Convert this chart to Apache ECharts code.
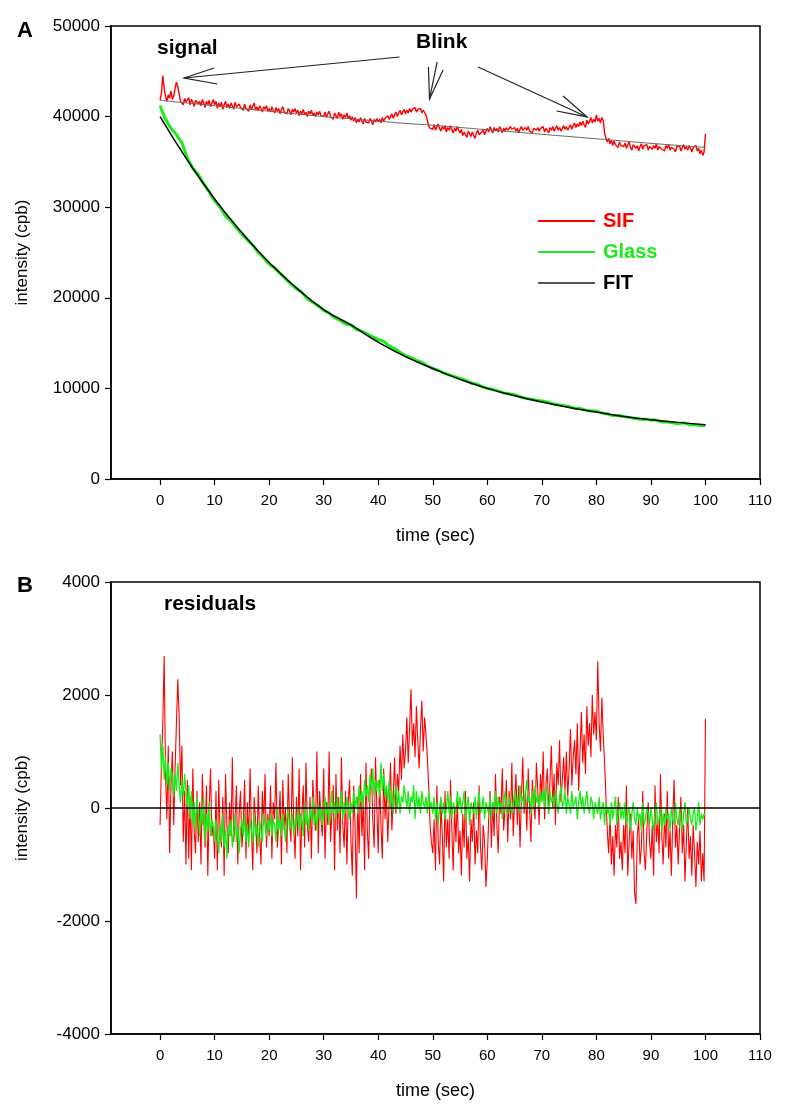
<!DOCTYPE html>
<html><head><meta charset="utf-8">
<script src="https://cdn.jsdelivr.net/npm/echarts@6/dist/echarts.min.js"></script>
<style>html,body{margin:0;padding:0;background:#fff}#c{width:792px;height:1111px}</style>
</head><body><div id="c"></div>
<script>
// ---------- tick labels ----------
const xTicks = [0, 10, 20, 30, 40, 50, 60, 70, 80, 90, 100, 110];
// ---------- fit curves (sampled every 5 s) ----------
const fitTimes = [0, 5, 10, 15, 20, 25, 30, 35, 40, 45, 50, 55, 60, 65, 70, 75, 80, 85, 90, 95, 100];
const sifFit   = [41800, 41500, 41200, 40900, 40600, 40300, 40000, 39750, 39500, 39250, 39050, 38800, 38550, 38300, 38050, 37800, 37550, 37300, 37050, 36820, 36600];
const glassFit = [40000, 35200, 30900, 27200, 23900, 21100, 18700, 17000, 15100, 13500, 12200, 11000, 10000, 9200, 8500, 7900, 7400, 6900, 6550, 6250, 6000];
// ---------- SIF signal (every 0.25 s) ----------
const sifSignal = [
41800,42600,44500,43100,42200,41700,42400,42000,42800,41900,42300,43100,43800,43300,42500,41700,41900,41300,42000,41600,
41500,42100,41300,41900,41600,41100,41800,42000,41400,41700,41200,41900,41500,41000,41700,41300,41800,41100,41500,41900,
41300,41700,40900,41500,41100,41600,40800,41300,41700,41000,41400,40900,41500,41200,40800,41600,41100,40900,41400,41000,
41200,40700,41400,40900,41100,40600,41300,40800,41000,41500,40700,41100,40600,41200,40900,40500,41100,40800,41200,40600,
40900,40500,41100,40700,40400,41000,40600,40900,40300,40800,41100,40500,40700,40300,40900,40600,40200,40800,40500,40900,
40400,40700,40100,40600,40300,40800,40200,40500,40000,40600,40300,40700,40100,40400,40000,40500,40200,40600,40100,40300,
40000,40500,39900,40300,40600,40000,40200,39700,40400,40100,39800,40500,40000,40300,39700,40200,39900,40400,39800,40100,
39600,40000,39500,39900,39300,39700,39400,39900,39500,39200,39800,39400,39600,39300,39800,39500,39100,39700,39400,39800,
39400,39700,39300,39900,39500,39800,39600,40100,39700,40000,40300,39800,40200,40500,40000,40400,40700,40200,40500,40800,
40300,40700,40400,40900,40500,40800,40600,41000,40500,40800,40600,40900,40400,40700,40500,40200,39600,39000,38700,38900,
38600,39100,38500,38900,39200,38700,38400,38900,38600,39000,38300,38800,38500,39000,38600,38200,38700,38400,38900,38500,
38200,38600,37900,38300,38000,37700,38400,38100,37800,38300,37900,37600,38200,38500,38000,37800,38300,38600,38000,38400,
38700,38300,38900,38500,38200,38800,38400,38700,38300,38900,38600,38200,38700,38400,38800,38500,38300,38900,38600,38400,
38800,38400,38700,38200,38600,38900,38500,38300,38800,38500,38900,38400,38600,38200,38700,38900,38500,38800,38400,38700,
38500,38900,38300,38700,38600,38200,38800,38500,38900,38400,38700,39000,38500,38800,38400,38700,39000,38600,38900,38500,
38700,39100,38600,39000,39300,38800,39200,38900,39400,39000,39500,39100,38800,39600,39200,39500,39900,39300,39700,39400,
40200,39500,39800,39300,39900,39600,38200,37600,37200,37600,37000,37400,36800,37300,36900,37100,36600,37200,36800,37000,
36700,37100,36500,36900,37200,36600,36300,36900,37000,36500,36800,36200,36700,37000,36400,36800,36600,36900,36300,36700,
36900,36400,36800,36500,37000,36300,36700,36900,36400,36600,36200,36800,36500,36900,36300,36600,36800,36400,36100,36700,
36500,36800,36200,36600,36900,36400,36700,36300,36800,36500,36100,36600,36400,36800,36200,36500,35900,36300,35700,36100,
38100];
// ---------- Glass signal (every 1 s) ----------
const glassSignal = [
41200,39700,38700,38000,37100,35400,34300,33600,32600,31700,
30700,30000,29000,28500,27700,27000,26400,25800,25000,24400,
23700,23300,22700,22100,21500,21000,20600,19900,19500,19100,
18600,18300,17800,17500,17100,17000,16500,16300,16000,15700,
15400,15200,14700,14400,14000,13600,13400,13100,12900,12500,
12200,12000,11700,11500,11300,11100,10900,10600,10500,10200,
10000,9900,9700,9500,9400,9300,9100,8900,8800,8700,
8600,8500,8300,8200,8100,8000,7800,7800,7600,7500,
7500,7300,7200,7000,7000,6900,6800,6700,6600,6600,
6500,6500,6300,6300,6200,6100,6200,6000,6000,5900,
5900];
// ---------- residuals (every 0.25 s) ----------
const sifResidual = [
-300,800,1500,2690,600,-200,1100,-800,400,1000,-300,700,1500,2280,1600,400,1100,-600,300,-1000,
500,-900,200,-1100,700,-400,-800,300,-600,100,-1000,600,-200,-700,400,-1200,0,700,-500,-300,
-900,300,-1100,500,-400,-700,200,-1200,600,-300,-800,100,-500,900,-600,-200,400,-1000,-100,300,
-700,-300,500,-900,100,-600,700,-400,-1100,200,-200,-800,400,-500,-1000,300,-300,600,-700,-100,
-500,400,-900,100,-200,800,-700,-300,300,-1000,500,-400,0,-800,600,-200,-600,900,-300,-900,
200,-500,700,-1100,-100,400,-700,800,-300,-600,200,-900,500,0,-400,1000,-800,300,-200,-500,
700,-900,100,-300,1000,-600,-100,400,-1100,600,-400,200,-800,900,-300,-700,300,-1000,100,500,
-600,-1200,400,-300,-1600,200,-800,600,-500,100,-1100,800,-400,-900,300,700,-200,-700,900,0,
-800,500,-300,-900,700,-200,300,-600,100,800,-400,200,900,-100,600,300,1100,500,1300,700,
1000,1600,800,1400,2100,1100,1500,900,1800,1200,700,1400,1900,1000,1600,1300,900,400,-300,-600,
-800,-200,-1100,400,-600,-1000,100,-500,-1300,300,-700,-200,-900,500,-400,-1100,0,-600,200,-800,
-400,-1200,-100,-700,300,-900,-500,-1300,-200,-600,100,-1000,-400,-800,400,-700,-1100,-300,-600,-1400,
-900,-200,300,-700,100,-500,600,-300,-800,200,-100,700,-400,0,500,-600,300,-200,800,-500,
100,600,-300,400,-700,200,900,-100,300,-400,700,0,-600,500,100,-200,800,300,-300,600,
200,1000,-200,400,700,-100,500,1100,0,600,-300,800,400,1200,100,500,900,300,1000,200,
700,1400,400,900,1200,600,1500,300,1000,1700,800,1300,600,1800,1100,1500,900,2000,1300,1700,
1200,2600,1500,1000,1950,1300,800,200,-400,-800,-100,-1000,-500,-1200,-300,-700,200,-900,-600,-1100,
-300,-800,400,-1200,-600,-100,-900,-400,-1500,-1700,-500,-200,-1000,-700,300,-800,-1100,-400,100,-600,
-900,-300,-1200,400,-600,-200,-800,600,-500,-1000,-100,-700,300,-900,-400,-1200,-200,500,-700,-300,
-1000,-400,200,-800,-300,-1300,-600,0,-900,-500,-1200,-300,-800,-1400,-600,-1000,-400,-1300,-800,-1300,
1580];
const glassResidual = [
1300,700,1100,500,900,400,800,300,700,500,200,600,300,800,400,100,500,200,600,300,
0,400,-200,300,-300,100,-400,200,-100,-500,0,-300,200,-600,-100,-400,100,-500,-200,-300,
-600,-200,-500,-800,-300,-600,-100,-700,-400,-900,-300,-500,-200,-700,-400,-100,-600,-300,-800,-400,
-200,-500,-100,-600,-300,-700,-200,-400,-600,-100,-500,-300,-700,-200,-400,-600,-100,-300,-500,-200,
-400,-100,-500,-200,-300,-600,0,-400,-200,-500,-100,-300,-600,-200,0,-400,-300,-100,-500,-200,
-300,0,-400,-100,-200,-500,100,-300,-100,-400,0,-200,200,-300,-100,-400,100,-200,0,-300,
-100,200,-200,100,-300,0,300,-100,100,-200,200,-100,0,300,-200,100,-100,200,0,-200,
100,-100,300,0,200,-100,400,100,300,0,500,200,400,100,600,300,700,200,500,300,
500,200,800,300,600,200,400,100,500,0,300,-100,200,400,0,300,-100,200,100,400,
200,0,300,-100,200,100,400,-200,300,0,200,-100,300,100,0,200,-100,300,0,100,
-100,200,-200,100,-300,0,200,-100,100,-200,0,300,-100,200,-200,100,0,-100,300,0,
200,-100,100,300,-200,0,200,-300,100,0,-100,200,-200,100,300,-100,0,200,-200,100,
0,-100,200,-200,100,0,300,-100,200,0,100,-200,100,300,0,-100,200,0,-100,100,
300,0,200,-100,400,100,200,0,300,500,100,200,-100,300,0,400,100,200,0,300,
100,300,0,400,200,-100,300,100,200,0,300,100,-100,200,400,0,100,300,-100,200,
200,-100,300,0,100,200,-200,100,300,0,200,-100,100,300,0,-100,200,100,-200,100,
100,-100,200,-200,0,100,-300,100,-100,0,-300,100,-200,0,200,-300,-100,100,-200,0,
-200,100,-300,-100,0,-400,-100,100,-200,-300,0,-200,-100,-400,100,-300,-200,0,-100,-300,
0,-200,-400,-100,100,-300,-200,0,-400,-100,-300,0,-200,-100,-400,0,-200,-300,100,-200,
-300,0,-200,-400,-100,100,-300,-200,0,-200,-300,-100,0,-400,-200,100,-300,-100,-200,-100,
-150];
// ---------- annotation arrows (data coordinates of panel A) ----------
const arrows = [
  {tail:[43.9,46580], tip:[4.4,44260], heads:[[9.9,45370],[10.5,43600]]},
  {tail:[50.8,46030], tip:[49.4,41940], heads:[[49.2,45480],[51.9,45150]]},
  {tail:[58.3,45480], tip:[78.3,39960], heads:[[73.9,42280],[72.7,40620]]}
];

const FONT = '"Liberation Sans", Arial, sans-serif';
const RED = '#ff0000', GREEN = '#16ee16';
const quarter = arr => arr.map((v, i) => [i * 0.25, v]);
const whole = arr => arr.map((v, i) => [i, v]);
const pairs = (xs, ys) => xs.map((x, i) => [x, ys[i]]);

function xAxis(gi) {
  return {
    type: 'value', gridIndex: gi, min: -9, max: 110,
    name: 'time (sec)', nameLocation: 'middle', nameGap: 48,
    nameTextStyle: {fontSize: 18, color: '#000', fontFamily: FONT},
    axisLine: {show: true, onZero: false, lineStyle: {color: '#000', width: 1.5}},
    axisTick: {show: true, customValues: xTicks, length: 6, lineStyle: {color: '#000', width: 1.2}},
    axisLabel: {customValues: xTicks, color: '#000', fontSize: 15, margin: 14, fontFamily: FONT},
    splitLine: {show: false}
  };
}
function yAxis(gi, min, max, interval) {
  return {
    type: 'value', gridIndex: gi, min, max, interval,
    name: 'intensity (cpb)', nameLocation: 'middle', nameGap: 80,
    nameTextStyle: {fontSize: 17, color: '#000', fontFamily: FONT},
    axisLine: {show: true, onZero: false, lineStyle: {color: '#000', width: 1.5}},
    axisTick: {show: true, length: 6, lineStyle: {color: '#000', width: 1.2}},
    axisLabel: {color: '#000', fontSize: 17, margin: 11, fontFamily: FONT,
      formatter: v => String(v)},
    splitLine: {show: false}
  };
}

const chart = echarts.init(document.getElementById('c'), null, {renderer: 'canvas'});
const option = {
  backgroundColor: '#fff',
  animation: false,
  grid: [
    {left: 111, top: 26, width: 649, height: 453, show: true, borderColor: '#000', borderWidth: 1.5},
    {left: 111, top: 582, width: 649, height: 452, show: true, borderColor: '#000', borderWidth: 1.5}
  ],
  xAxis: [xAxis(0), xAxis(1)],
  yAxis: [yAxis(0, 0, 50000, 10000), yAxis(1, -4000, 4000, 2000)],
  legend: {
    left: 533, top: 206, orient: 'vertical', itemWidth: 57, itemHeight: 2, itemGap: 11,
    icon: 'rect', selectedMode: false,
    textStyle: {fontSize: 20, fontWeight: 'bold', fontFamily: FONT, padding: [0, 0, 0, 3]},
    data: [
      {name: 'SIF', itemStyle: {color: RED}, textStyle: {color: RED}},
      {name: 'Glass', itemStyle: {color: GREEN}, textStyle: {color: GREEN}},
      {name: 'FIT', itemStyle: {color: '#555'}, textStyle: {color: '#000'}}
    ]
  },
  series: [
    {name: 'SIF', type: 'line', xAxisIndex: 0, yAxisIndex: 0, data: quarter(sifSignal), showSymbol: false,
     lineStyle: {color: RED, width: 1.4}, itemStyle: {color: RED}},
    {name: 'Glass', type: 'line', xAxisIndex: 0, yAxisIndex: 0, data: whole(glassSignal), showSymbol: false,
     lineStyle: {color: GREEN, width: 3}, itemStyle: {color: GREEN}},
    {name: 'FIT', type: 'line', xAxisIndex: 0, yAxisIndex: 0, data: pairs(fitTimes, sifFit), showSymbol: false, smooth: true,
     lineStyle: {color: '#666', width: 1}, itemStyle: {color: '#555'}},
    {name: 'FIT', type: 'line', xAxisIndex: 0, yAxisIndex: 0, data: pairs(fitTimes, glassFit), showSymbol: false, smooth: true,
     lineStyle: {color: '#000', width: 1.5}, itemStyle: {color: '#555'}},
    {name: 'SIF residuals', type: 'line', xAxisIndex: 1, yAxisIndex: 1, data: quarter(sifResidual), showSymbol: false,
     lineStyle: {color: RED, width: 1.1}},
    {name: 'Glass residuals', type: 'line', xAxisIndex: 1, yAxisIndex: 1, data: quarter(glassResidual), showSymbol: false,
     lineStyle: {color: GREEN, width: 1.3},
     markLine: {silent: true, symbol: 'none', label: {show: false},
       lineStyle: {color: '#000', width: 1.5, type: 'solid'}, data: [{yAxis: 0}]}}
  ]
};
chart.setOption(option);

// annotations
const g = [];
const txt = (text, left, top, size) => ({type: 'text', left, top,
  style: {text, fill: '#000', font: 'bold ' + size + 'px ' + FONT}});
g.push(txt('A', 17, 20, 22), txt('B', 17, 575, 22));
g.push(txt('signal', 157, 38, 21), txt('Blink', 416, 32, 21), txt('residuals', 164, 594, 21));
arrows.forEach(a => {
  const P = p => chart.convertToPixel({gridIndex: 0}, p);
  const tip = P(a.tip);
  g.push({type: 'line', shape: {x1: P(a.tail)[0], y1: P(a.tail)[1], x2: tip[0], y2: tip[1]},
          style: {stroke: '#222', lineWidth: 1.2}});
  g.push({type: 'polyline', shape: {points: [P(a.heads[0]), tip, P(a.heads[1])]},
          style: {stroke: '#222', lineWidth: 1.2, fill: null}});
});
chart.setOption({graphic: g});
</script></body></html>
